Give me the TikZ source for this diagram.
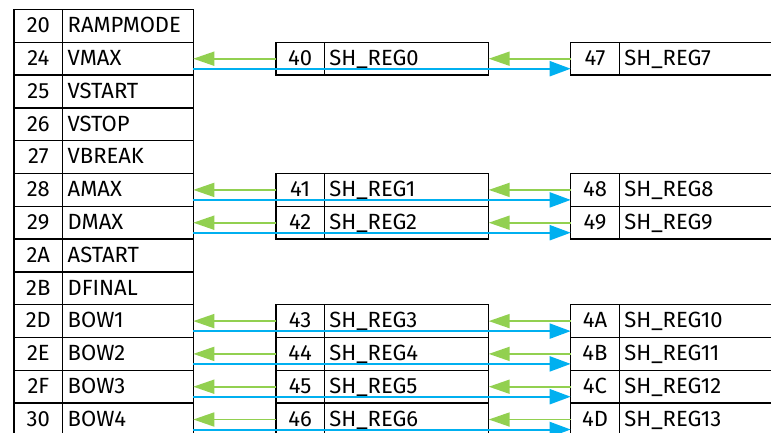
\documentclass[tikz,border=0pt]{standalone}
\usepackage{fontspec}
\setmainfont{Fira Sans}
\usetikzlibrary{arrows.meta}
\definecolor{lgreen}{HTML}{92D050}
\definecolor{lblue}{HTML}{00B0F0}
\begin{document}
\begin{tikzpicture}[x=1pt,y=-1pt,
  cell/.style={draw=black,line width=1.5pt,rectangle,inner sep=0pt,outer sep=0pt,
    minimum height=32.8pt,anchor=north west,font=\fontsize{22}{24}\selectfont,
    text height=15pt,text depth=1.5pt},
  numcell/.style={cell,minimum width=#1,align=center},
  namecell/.style={cell,text width=#1-10pt,inner xsep=5pt,align=left},
  garrow/.style={draw=lgreen,line width=1.8pt,-{Triangle[length=21pt,width=14pt]}},
  barrow/.style={draw=lblue,line width=2pt,-{Triangle[length=21pt,width=15pt]}}]
\useasboundingbox (0,0) rectangle (771,432);
\fill[white] (0,0) rectangle (771,432);
\clip (0,0) rectangle (771,432);
% left table
\foreach \i/\n/\t in {0/20/RAMPMODE,1/24/VMAX,2/25/VSTART,3/26/VSTOP,4/27/VBREAK,
  5/28/AMAX,6/29/DMAX,7/2A/ASTART,8/2B/DFINAL,9/2D/BOW1,10/2E/BOW2,11/2F/BOW3,12/30/BOW4}{
  \node[numcell=48.7pt] (tn\i) at (14,{9.5+\i*32.8}) {\n};
  \node[namecell=130.6pt] (tt\i) at (62.7,{9.5+\i*32.8}) {\t};
}
% shadow registers
\foreach \i/\a/\b/\c/\d in {1/40/0/47/7,5/41/1/48/8,6/42/2/49/9,9/43/3/4A/10,
  10/44/4/4B/11,11/45/5/4C/12,12/46/6/4D/13}{
  \node[numcell=48.3pt] (mn\i) at (276,{9.5+\i*32.8}) {\a};
  \node[namecell=164.4pt] (mt\i) at (324.3,{9.5+\i*32.8}) {SH\_REG\b};
  \node[numcell=48.6pt] (rn\i) at (570.7,{9.5+\i*32.8}) {\c};
  \node[namecell=220pt] (rt\i) at (619.3,{9.5+\i*32.8}) {SH\_REG\d};
}
\foreach \i in {1,5,6,9,10,11,12}{
  \draw[garrow] (rn\i.west) -- (mt\i.east);
  \draw[garrow] (mn\i.west) -- (tt\i.east);
}
\foreach \i in {1,5,6,9,10,11,12}{
  \draw[barrow] ([yshift=-10pt]tt\i.east) -- ([yshift=-10pt]rn\i.west);
}
\end{tikzpicture}
\end{document}
